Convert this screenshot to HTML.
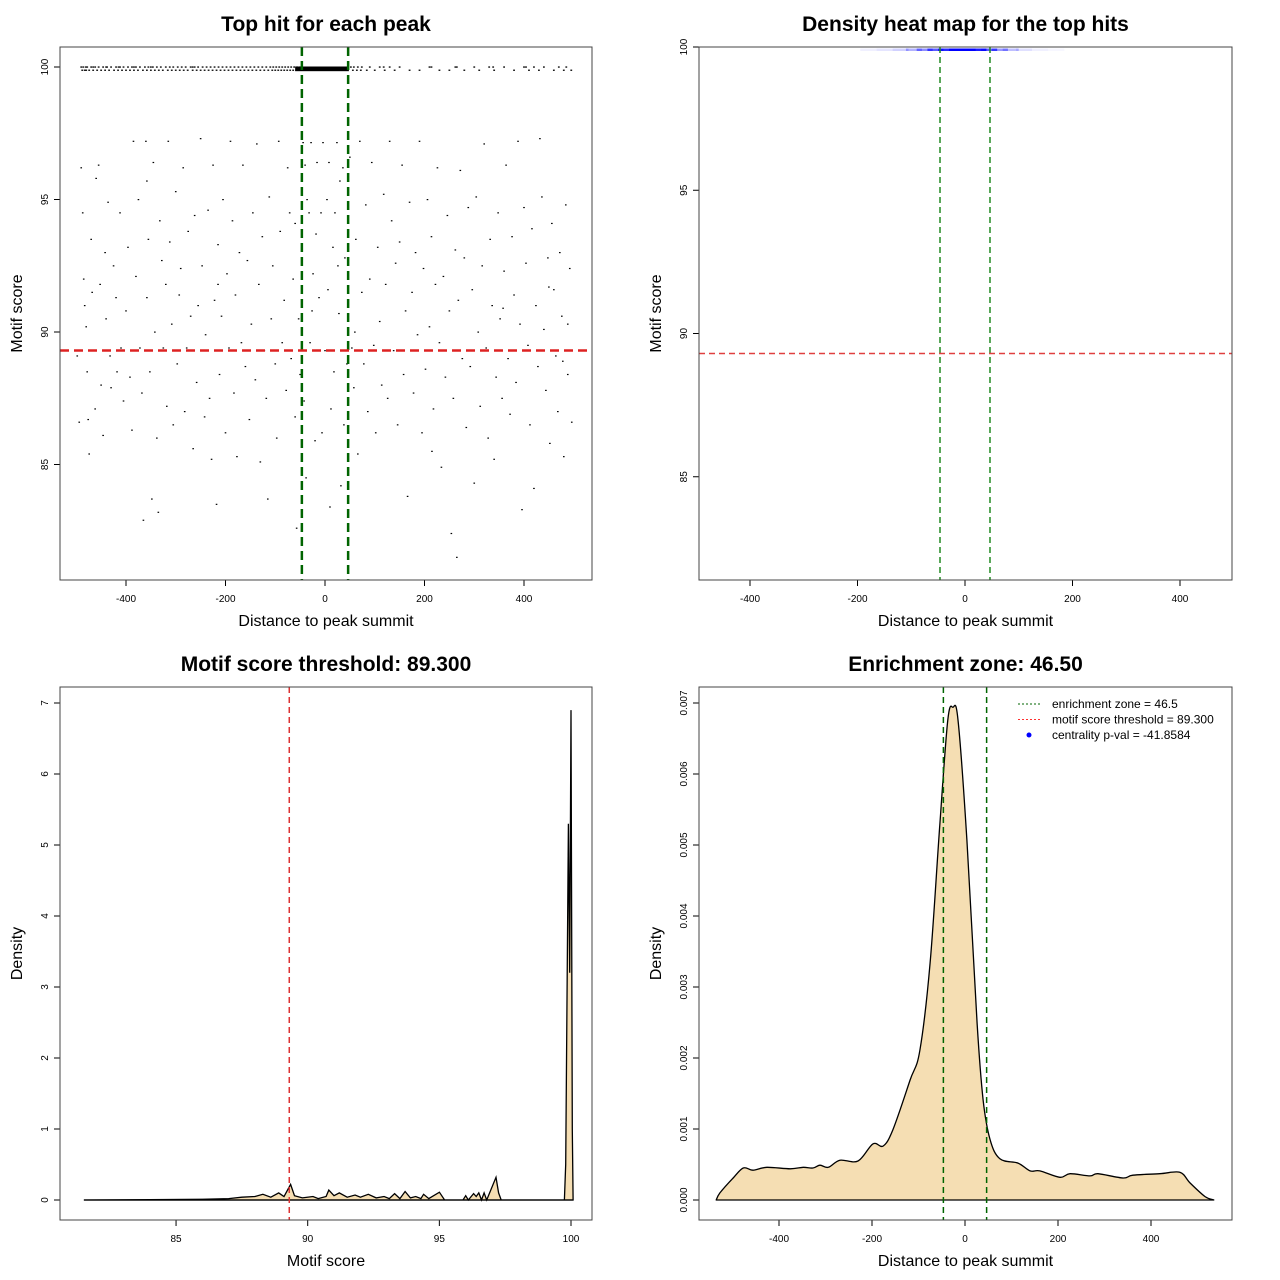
<!DOCTYPE html>
<html><head><meta charset="utf-8"><style>
body{margin:0;background:#fff}
svg{display:block;font-family:"Liberation Sans",sans-serif}
.t{font-size:21px;font-weight:bold;text-anchor:middle}
.al{font-size:16px;text-anchor:middle}
.tk{font-size:10px;text-anchor:middle}
</style></head><body>
<svg id="c" width="1280" height="1280" viewBox="0 0 1280 1280"></svg>
<script>
const scatterPts=[[-490,96.2],[-487,94.5],[-485,92],[-483,91],[-480,90.2],[-478,88.5],[-476,86.7],[-474,85.4],[-470,93.5],[-468,91.5],[-465,89.3],[-462,87.1],[-460,95.8],[-455,96.3],[-452,91.8],[-450,88],[-446,86.1],[-442,93],[-440,90.5],[-436,94.9],[-432,89.1],[-430,87.9],[-425,92.5],[-420,91.3],[-418,88.5],[-412,94.5],[-410,89.4],[-405,87.4],[-400,90.8],[-396,93.2],[-392,88.3],[-388,86.3],[-385,97.2],[-380,92.1],[-375,95],[-372,89.4],[-368,87.7],[-365,82.9],[-360,97.2],[-358,91.3],[-355,93.5],[-352,88.5],[-348,83.7],[-345,96.4],[-342,90],[-338,86],[-335,83.2],[-332,94.2],[-328,92.7],[-325,89.4],[-320,91.8],[-318,87.2],[-315,97.2],[-312,93.4],[-308,90.3],[-305,86.5],[-300,95.3],[-297,88.8],[-293,91.4],[-290,92.4],[-285,96.2],[-282,87],[-278,89.4],[-275,93.8],[-270,90.6],[-265,85.6],[-262,94.4],[-258,88.1],[-255,91],[-250,97.3],[-247,92.5],[-242,86.8],[-240,89.9],[-235,94.6],[-232,87.5],[-228,85.2],[-225,96.3],[-222,91.2],[-218,83.5],[-215,93.3],[-212,88.4],[-208,90.6],[-205,95],[-200,86.2],[-197,92.2],[-193,89.4],[-190,97.2],[-186,94.2],[-183,87.7],[-180,91.4],[-177,85.3],[-172,93],[-168,89.6],[-165,96.3],[-160,88.7],[-156,92.7],[-152,86.7],[-148,90.3],[-145,94.5],[-140,88.2],[-137,97.1],[-133,91.8],[-130,85.1],[-126,93.6],[-122,89.3],[-118,87.5],[-115,83.7],[-112,95.1],[-108,90.5],[-105,92.5],[-100,88.8],[-97,86],[-93,97.2],[-90,93.8],[-86,89.6],[-82,91.2],[-78,87.8],[-75,96.2],[-71,94.5],[-68,89],[-64,92],[-60,86.8],[-57,82.6],[-53,90.5],[-50,88.4],
[-44,97.15],[-40,96.3],[-36,95],[-32,94.5],[-28,97.15],[-24,92.2],[-20,85.9],[-16,96.4],[-12,91.3],[-8,94.5],[-4,97.15],[0,89.3],[4,95],[8,96.4],[12,87.1],[16,93.2],[20,94.5],[24,97.15],[28,90.7],[32,84.2],[36,96.2],[40,92.8],[44,88.8],[-42,87.4],[-30,89.6],[-18,93.7],[-6,86.2],[6,91.6],[18,88.5],[30,95.7],[38,86.5],[-38,84.5],[10,83.4],[-26,90.8],[26,92.5],
[50,96.6],[54,89.4],[58,87.9],[62,93.5],[66,85.4],[70,97.2],[74,91.5],[78,88.8],[82,94.8],[86,87],[90,92],[94,96.4],[98,89.5],[102,86.2],[106,93.2],[110,90.4],[114,88],[118,95.2],[122,91.8],[126,87.5],[130,97.2],[134,94.2],[138,89.3],[142,92.6],[146,86.5],[150,93.4],[155,96.3],[158,88.4],[162,90.8],[166,83.8],[170,94.9],[175,91.5],[178,87.7],[182,93],[186,89.9],[190,97.2],[195,86.2],[198,92.4],[202,88.6],[206,95],[210,90.2],[214,93.6],[218,87.1],[222,91.8],[226,96.2],[230,89.6],[234,84.9],[238,92.1],[242,88.3],[246,94.4],[250,90.8],[254,82.4],[258,87.5],[262,93.1],[265,81.5],[268,91.2],[272,96.1],[276,89],[280,92.8],[284,86.4],[288,94.7],[292,88.7],[296,91.6],[300,84.3],[304,95.1],[308,90],[312,87.2],[316,92.5],[320,97.1],[324,89.4],[328,86],[332,93.5],[336,91],[340,85.2],[344,88.3],[348,94.5],[352,90.5],[356,87.5],[360,92.3],[364,96.3],[368,89],[372,86.9],[376,93.6],[380,91.4],[384,88.1],[388,97.2],[392,90.3],[396,83.3],[400,94.7],[404,92.6],[408,89.5],[412,86.5],[416,93.9],[420,84.1],[424,91],[428,88.7],[432,97.3],[436,95.1],[440,90.1],[444,87.8],[448,92.8],[452,85.8],[456,94.1],[460,91.6],[464,89.1],[468,87],[472,93],[476,90.6],[480,85.3],[484,94.8],[488,88.4],[492,92.4],[496,86.6],[-498,89.1],[-494,86.6],[-358,95.7],[-215,91.8],[-60,94.1],[60,90],[215,85.5],[358,90.9],[450,91.7],[478,88.9],[488,90.3]];
const row100X=[-490,-486,-481,-478,-470,-466,-462,-455,-446,-440,-438,-430,-420,-415,-412,-405,-396,-388,-384,-380,-372,-362,-355,-350,-346,-338,-330,-320,-312,-305,-296,-288,-280,-270,-266,-262,-255,-246,-238,-230,-222,-214,-206,-198,-190,-182,-174,-166,-158,-150,-142,-134,-126,-118,-110,-104,-98,-92,-86,-80,-74,-68,-62,-56,-50,52,58,66,74,90,110,118,130,150,210,214,262,265,300,330,338,360,400,404,420,440,470,485];
const row999X=[-488,-483,-480,-474,-466,-458,-450,-442,-434,-424,-416,-408,-400,-392,-384,-376,-366,-358,-350,-342,-334,-326,-316,-308,-300,-292,-284,-276,-266,-258,-250,-242,-234,-226,-218,-210,-202,-194,-186,-178,-170,-162,-154,-146,-138,-130,-122,-114,-106,-100,-94,-88,-82,-76,-70,-64,-58,56,64,72,84,100,120,140,170,190,230,250,280,310,340,380,410,430,460,480,495];
const heatX=[-180,-150,-120,-95,-75,-55,-35,-15,5,25,45,65,85,110,140,170];
const heatV=[0.06,0.1,0.18,0.3,0.45,0.65,0.85,1,1,0.9,0.65,0.4,0.25,0.12,0.06,0.03];
const msX=[81.5,84,86,87,87.5,88,88.3,88.6,88.9,89.1,89.35,89.5,89.8,90.2,90.4,90.7,90.8,91,91.2,91.5,91.8,92,92.3,92.6,92.9,93.1,93.3,93.5,93.7,93.9,94.1,94.3,94.4,94.6,95,95.2,95.9,96,96.1,96.3,96.4,96.5,96.6,96.7,96.8,97.15,97.25,97.35,99.75,99.8,99.9,99.95,100,100.05,100.08];
const msY=[0,0.005,0.01,0.02,0.04,0.05,0.08,0.04,0.1,0.05,0.22,0.06,0.03,0.05,0.02,0.05,0.14,0.06,0.1,0.04,0.07,0.04,0.08,0.03,0.05,0.02,0.09,0.02,0.12,0.03,0.05,0.02,0.08,0.02,0.11,0,0,0.06,0,0.09,0.05,0.1,0,0.1,0,0.32,0.1,0,0,0.5,5.3,3.2,6.9,1,0];
const dX=[-535,-527,-500,-477,-456,-426,-376,-348,-327,-312,-294,-269,-230,-198,-176,-155,-118,-97,-75,-54,-37,-26,-15,4,26,39,54,75,114,140,161,204,226,269,286,340,361,419,462,484,516,535];
const dY=[0,0.1,0.3,0.45,0.42,0.46,0.44,0.46,0.45,0.49,0.46,0.56,0.55,0.79,0.76,0.99,1.69,2.11,3.34,5.3,6.76,6.94,6.76,5.07,2.49,1.41,0.85,0.58,0.52,0.41,0.41,0.32,0.37,0.34,0.37,0.31,0.35,0.37,0.39,0.24,0.05,0];
const p1XTicks=[-400,-200,0,200,400], p1YTicks=[85,90,95,100];
const p3XTicks=[85,90,95,100], p3YTicks=[0,1,2,3,4,5,6,7];
const p4YTicks=[0,0.001,0.002,0.003,0.004,0.005,0.006,0.007];
const zone=46.5, thr=89.3, denseFrom=-60, denseTo=48;

const S=document.getElementById('c'),NS='http://www.w3.org/2000/svg';
function mk(tag,at,parent,txt){const e=document.createElementNS(NS,tag);for(const k in at)e.setAttribute(k,at[k]);if(txt!=null)e.textContent=txt;(parent||S).appendChild(e);return e;}
function smooth(pts){let d='M'+pts[0][0].toFixed(1)+','+pts[0][1].toFixed(1);
  for(let i=0;i<pts.length-1;i++){const p0=pts[i-1]||pts[i],p1=pts[i],p2=pts[i+1],p3=pts[i+2]||p2;
    const c1=[p1[0]+(p2[0]-p0[0])/6,p1[1]+(p2[1]-p0[1])/6],c2=[p2[0]-(p3[0]-p1[0])/6,p2[1]-(p3[1]-p1[1])/6];
    d+=` C${c1[0].toFixed(1)},${c1[1].toFixed(1)} ${c2[0].toFixed(1)},${c2[1].toFixed(1)} ${p2[0].toFixed(1)},${p2[1].toFixed(1)}`;}
  return d;}
function panel(name,bx,by,bw,bh,title,xl,yl,sx,sy,xt,yt,fx,fy){
  const g=mk('g',{});
  
  
  const t=mk('text',{x:bx+bw/2,y:by-16,class:'t'},g,title);
  
  const a=mk('text',{x:bx+bw/2,y:by+bh+46,class:'al'},g,xl);
  
  const b=mk('text',{x:0,y:0,class:'al',transform:`translate(${bx-38},${by+bh/2}) rotate(-90)`},g,yl);
  
  xt.forEach(v=>{const x=sx(v);mk('line',{x1:x,x2:x,y1:by+bh,y2:by+bh+6,stroke:'#000'},g);
    const l=mk('text',{x:x,y:by+bh+22,class:'tk'},g,fx(v));});
  yt.forEach(v=>{const y=sy(v);mk('line',{x1:bx,x2:bx-6,y1:y,y2:y,stroke:'#000'},g);
    const l=mk('text',{x:0,y:0,class:'tk',transform:`translate(${bx-12},${y}) rotate(-90)`},g,fy(v));});
  return g;
}
function frame(g,bx,by,bw,bh){const r=mk('rect',{x:bx,y:by,width:bw,height:bh,fill:'none',stroke:'#444'},g);}
function vline(g,x,y1,y2,c,w,d,n){const l=mk('line',{x1:x,x2:x,y1:y1,y2:y2,stroke:c,'stroke-width':w,'stroke-dasharray':d},g);}
function hline(g,y,x1,x2,c,w,d,n){const l=mk('line',{x1:x1,x2:x2,y1:y,y2:y,stroke:c,'stroke-width':w,'stroke-dasharray':d},g);}

// Panel 1
const x1=v=>325+v*0.4975, y1=v=>67+(100-v)*26.5;
const g1=panel('scatter-panel',60,47,532,533,'Top hit for each peak','Distance to peak summit','Motif score',x1,y1,p1XTicks,p1YTicks,String,String);
scatterPts.forEach(p=>{const r=mk('rect',{x:x1(p[0])-0.8,y:y1(p[1])-0.5,width:1.6,height:1.2,fill:'#000'},g1);});
row100X.forEach(v=>{const r=mk('rect',{x:x1(v)-0.9,y:y1(100)-0.6,width:1.8,height:1.3,fill:'#000'},g1);});
row999X.forEach(v=>{const r=mk('rect',{x:x1(v)-0.9,y:y1(99.88)-0.6,width:1.8,height:1.3,fill:'#000'},g1);});
const band=mk('rect',{x:x1(denseFrom),y:y1(100)-0.5,width:x1(denseTo)-x1(denseFrom),height:y1(99.88)-y1(100)+1.5,fill:'#000'},g1);
vline(g1,x1(-zone),47,580,'#006400',2.5,'9,5','zone-line-left');
vline(g1,x1(zone),47,580,'#006400',2.5,'9,5','zone-line-right');
hline(g1,y1(thr),60,592,'#dd2222',2.5,'9,5','threshold-line');
frame(g1,60,47,532,533);

// Panel 2
const x2=v=>965+v*0.5375, y2=v=>47+(100-v)*28.65;
const g2=panel('heatmap-panel',699,47,533,533,'Density heat map for the top hits','Distance to peak summit','Motif score',x2,y2,p1XTicks,p1YTicks,String,String);
heatX.forEach((v,i)=>{const r=mk('rect',{x:x2(v)-8,y:48.5,width:16,height:2.5,fill:'#0000ff','fill-opacity':heatV[i]},g2);});
vline(g2,x2(-zone),47,580,'#228b22',1.5,'6,4','zone-line-left');
vline(g2,x2(zone),47,580,'#228b22',1.5,'6,4','zone-line-right');
hline(g2,y2(thr),699,1232,'#e04040',1.5,'6,4','threshold-line');
frame(g2,699,47,533,533);

// Panel 3
const x3=v=>571-(100-v)*26.33, y3=v=>1200-v*71;
const g3=panel('motif-density-panel',60,687,532,533,'Motif score threshold: 89.300','Motif score','Density',x3,y3,p3XTicks,p3YTicks,String,String);
let d3='M'+msX.map((v,i)=>x3(v).toFixed(1)+','+y3(msY[i]).toFixed(1)).join(' L');
const a3=mk('path',{d:d3+' Z',fill:'#f5deb3',stroke:'#000','stroke-width':1.3},g3);
hline(g3,y3(0),x3(81.5),x3(100.08),'#000',1.3,'','baseline');
vline(g3,x3(thr),687,1220,'#dd3333',1.5,'6,4','threshold-line');
frame(g3,60,687,532,533);

// Panel 4
const x4=v=>965+v*0.465, y4=v=>1200-v*71000;
const g4=panel('distance-density-panel',699,687,533,533,'Enrichment zone: 46.50','Distance to peak summit','Density',x4,y4,p1XTicks,p4YTicks,String,v=>v.toFixed(3));
const d4=smooth(dX.map((v,i)=>[x4(v),y4(dY[i]/1000)]));
const a4=mk('path',{d:d4+' Z',fill:'#f5deb3',stroke:'#000','stroke-width':1.3,'stroke-linejoin':'round'},g4);
vline(g4,x4(-zone),687,1220,'#006400',1.5,'6,4','zone-line-left');
vline(g4,x4(zone),687,1220,'#006400',1.5,'6,4','zone-line-right');
frame(g4,699,687,533,533);
const lg=mk('g',{},g4);
const leg=[['enrichment zone = 46.5','#006400','line'],['motif score threshold = 89.300','#ff3030','line'],['centrality p-val = -41.8584','#0000ff','dot']];
leg.forEach((e,i)=>{const y=704+i*15.5;
  if(e[2]=='line')mk('line',{x1:1018,x2:1040,y1:y,y2:y,stroke:e[1],'stroke-dasharray':'2,2'},lg);
  else mk('circle',{cx:1029,cy:y,r:2.5,fill:e[1]},lg);
  const t=mk('text',{x:1052,y:y+4,'font-size':'12px'},lg,e[0]);});
</script>
</body></html>
